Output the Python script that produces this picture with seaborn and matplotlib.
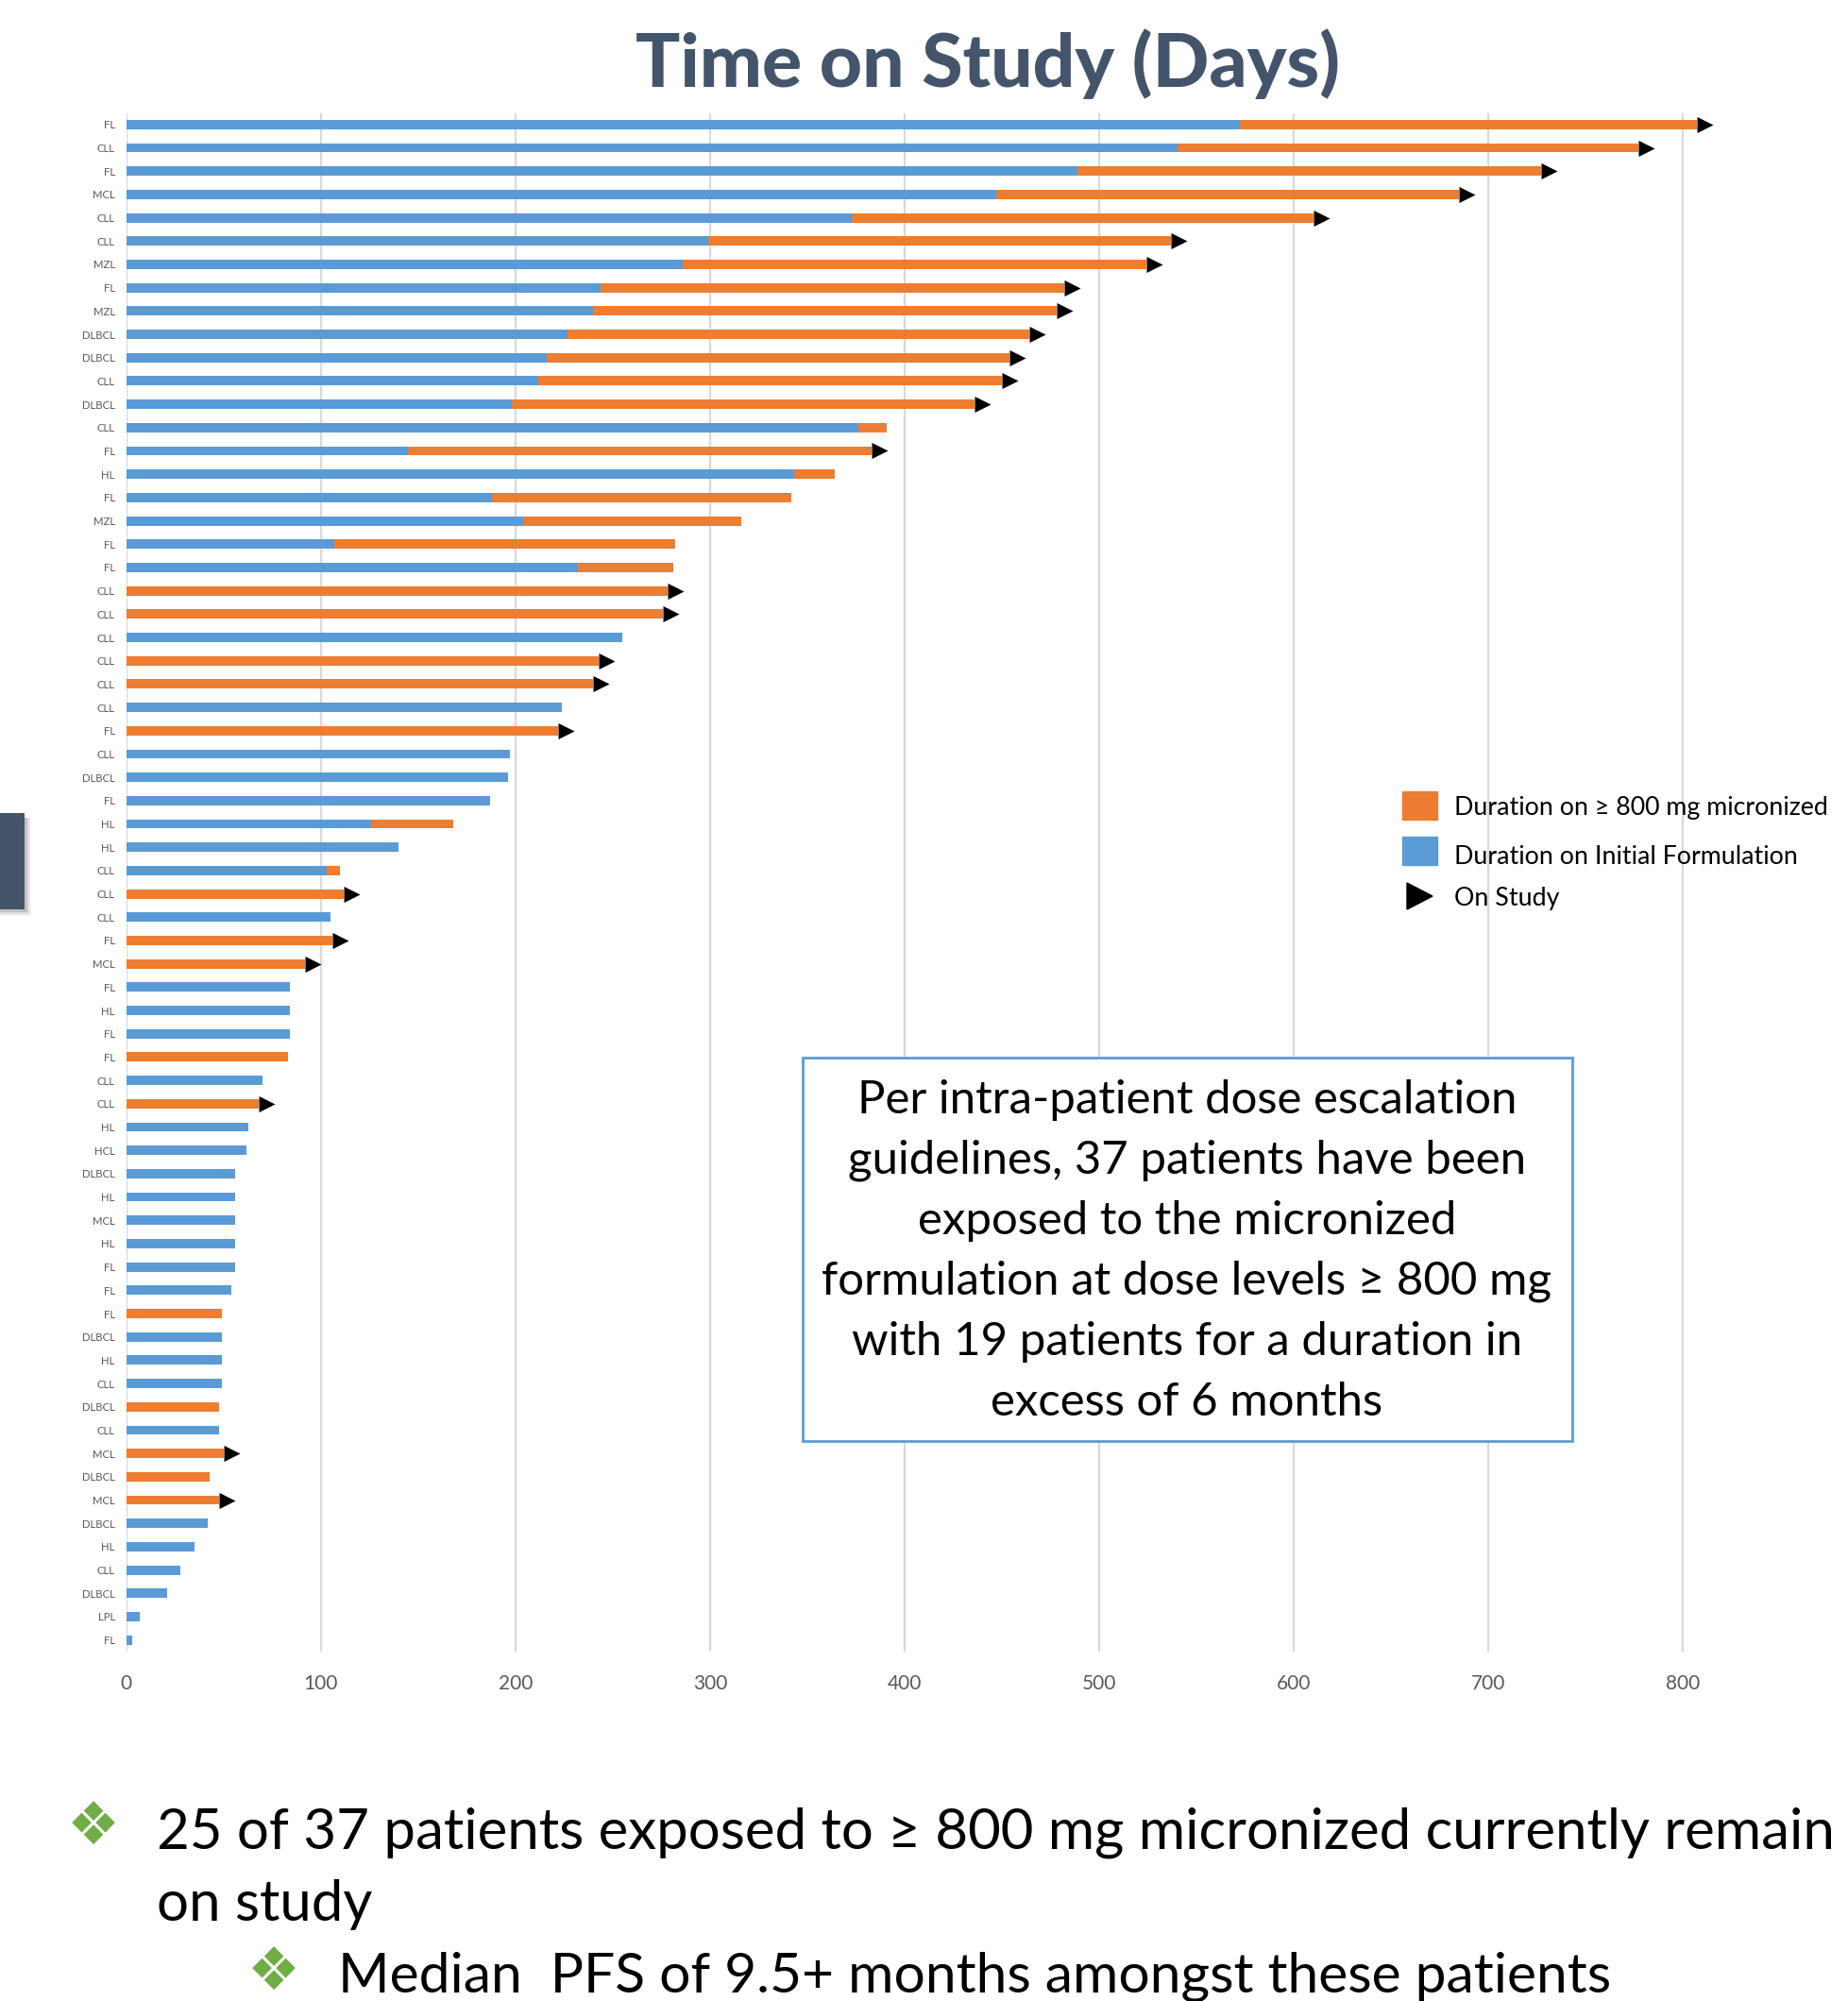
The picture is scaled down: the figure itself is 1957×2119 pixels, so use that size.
"""Time on study per patient, stacked by formulation, with on-study arrows."""
import matplotlib
matplotlib.use('Agg')
import matplotlib.pyplot as plt
from matplotlib.patches import Rectangle
from matplotlib.path import Path
import pandas as pd
import seaborn as sns

W, H = 1957, 2119
DPI = 100

BLUE = '#5B9BD5'
ORANGE = '#ED7D31'
SLATE = '#44546A'
GREEN = '#70AD47'
GREY = '#595959'
GRID = '#D9D9D9'

diagnosis = ['FL', 'CLL', 'FL', 'MCL', 'CLL', 'CLL', 'MZL', 'FL', 'MZL', 'DLBCL',
             'DLBCL', 'CLL', 'DLBCL', 'CLL', 'FL', 'HL', 'FL', 'MZL', 'FL', 'FL',
             'CLL', 'CLL', 'CLL', 'CLL', 'CLL', 'CLL', 'FL', 'CLL', 'DLBCL', 'FL',
             'HL', 'HL', 'CLL', 'CLL', 'CLL', 'FL', 'MCL', 'FL', 'HL', 'FL',
             'FL', 'CLL', 'CLL', 'HL', 'HCL', 'DLBCL', 'HL', 'MCL', 'HL', 'FL',
             'FL', 'FL', 'DLBCL', 'HL', 'CLL', 'DLBCL', 'CLL', 'MCL', 'DLBCL', 'MCL',
             'DLBCL', 'HL', 'CLL', 'DLBCL', 'LPL', 'FL']

# days on the initial formulation (blue segment)
initial_days = [572, 540, 489, 447, 373, 299, 286, 244, 240, 227,
                216, 212, 198, 376, 145, 343, 188, 204, 107, 232,
                0, 0, 255, 0, 0, 224, 0, 197, 196, 187,
                126, 140, 103, 0, 105, 0, 0, 84, 84, 84,
                0, 70, 0, 63, 62, 56, 56, 56, 56, 56,
                54, 0, 49, 49, 49, 0, 48, 0, 0, 0,
                42, 35, 28, 21, 7, 3]

# total days on study (end of the orange segment)
total_days = [807, 777, 727, 685, 610, 537, 524, 482, 478, 464,
              454, 450, 436, 391, 383, 364, 342, 316, 282, 281,
              278, 276, 255, 243, 240, 224, 222, 197, 196, 187,
              168, 140, 110, 112, 105, 106, 92, 84, 84, 84,
              83, 70, 68, 63, 62, 56, 56, 56, 56, 56,
              54, 49, 49, 49, 49, 48, 48, 50, 43, 47.6,
              42, 35, 28, 21, 7, 3]

on_study = [1, 1, 1, 1, 1, 1, 1, 1, 1, 1,
            1, 1, 1, 0, 1, 0, 0, 0, 0, 0,
            1, 1, 0, 1, 1, 0, 1, 0, 0, 0,
            0, 0, 0, 1, 0, 1, 1, 0, 0, 0,
            0, 0, 1, 0, 0, 0, 0, 0, 0, 0,
            0, 0, 0, 0, 0, 0, 0, 1, 0, 1,
            0, 0, 0, 0, 0, 0]

x_ticks = [0, 100, 200, 300, 400, 500, 600, 700, 800]

box_lines = 'Per intra-patient dose escalation\nguidelines, 37 patients have been\nexposed to the micronized\nformulation at dose levels ≥ 800 mg\nwith 19 patients for a duration in\nexcess of 6 months'

df = pd.DataFrame({'row': range(len(diagnosis)), 'initial': initial_days,
                   'total': total_days, 'on_study': on_study})

sns.set_theme(style='white')
plt.rcParams['font.family'] = ['Lato', 'DejaVu Sans']

fig = plt.figure(figsize=(W / DPI, H / DPI), dpi=DPI)

X0, Y_TOP, Y_BOT = 133.5, 119.5, 1749
PX_PER_DAY = (1782.5 - X0) / 800
XMAX = 835
ax = fig.add_axes([X0 / W, 1 - Y_BOT / H, XMAX * PX_PER_DAY / W, (Y_BOT - Y_TOP) / H])

ax.vlines(x_ticks, -0.5, len(df) - 0.5, color=GRID, lw=1.6, zorder=0)

sns.barplot(data=df, x='total', y='row', orient='y', native_scale=True, color=ORANGE,
            width=0.4, saturation=1, errorbar=None, ax=ax, zorder=2, linewidth=0)
sns.barplot(data=df[df['initial'] > 0], x='initial', y='row', orient='y', native_scale=True,
            color=BLUE, width=0.4, saturation=1, errorbar=None, ax=ax, zorder=3, linewidth=0)

# base of the triangle sits on the end of the bar
arrow = Path([(0, -8.5), (17, 0), (0, 8.5), (0, -8.5)], closed=True)
sns.scatterplot(data=df[df['on_study'] == 1], x='total', y='row', marker=arrow, s=600,
                color='black', linewidth=0, ax=ax, zorder=4, clip_on=False)

ax.set_xlim(0, XMAX)
ax.set_ylim(len(df) - 0.5, -0.5)
ax.set_xticks(x_ticks)
ax.set_yticks(df['row'])
ax.set_yticklabels(diagnosis)
ax.tick_params(axis='y', labelsize=8.2, labelcolor=GREY, length=0, pad=8.4)
ax.tick_params(axis='x', labelsize=15, labelcolor=GREY, length=0, pad=17.5)
ax.set_xlabel('')
ax.set_ylabel('')
sns.despine(ax=ax, left=True, bottom=True, top=True, right=True)


def px_text(x, y, s, **kw):
    return fig.text(x / W, 1 - y / H, s, **kw)


px_text(1046, 68, 'Time on Study (Days)', fontsize=56.5, fontweight='black', color=SLATE,
        ha='center', va='center')

# legend drawn by hand to keep the slide's spacing
for y, c in [(853, ORANGE), (901, BLUE)]:
    fig.add_artist(Rectangle((1485 / W, 1 - (y + 15) / H), 37 / W, 30 / H, color=c,
                             transform=fig.transFigure))
px_text(1540, 855, 'Duration on ≥ 800 mg micronized', fontsize=19.3, va='center', color='black')
px_text(1540, 907, 'Duration on Initial Formulation', fontsize=19.3, va='center', color='black')
px_text(1540, 951, 'On Study', fontsize=19.3, va='center', color='black')
fig.add_artist(plt.Polygon([(1490 / W, 1 - 935 / H), (1490 / W, 1 - 963 / H), (1517 / W, 1 - 949 / H)],
                           closed=True, color='black', transform=fig.transFigure))

# annotation box
fig.add_artist(Rectangle((850 / W, 1 - 1526 / H), 815 / W, 406 / H, facecolor='white', zorder=5,
                         edgecolor=BLUE, lw=2, transform=fig.transFigure))
px_text(1257, 1325, box_lines, fontsize=35.4, ha='center', va='center', color='black',
        linespacing=1.553, zorder=6)

# slide element cut off at the left edge, soft shadow first
for grow, alpha in [(7, 0.05), (5, 0.08), (3, 0.12)]:
    fig.add_artist(Rectangle((0, 1 - (963 + grow) / H), (26 + grow) / W, (97 + grow) / H,
                             facecolor='black', alpha=alpha, edgecolor='none',
                             transform=fig.transFigure))
fig.add_artist(Rectangle((0, 1 - 963 / H), 26 / W, 102 / H, facecolor=SLATE, edgecolor='none',
                         transform=fig.transFigure))

# bullets
px_text(99, 1937, '❖', fontsize=45, color=GREEN, family='DejaVu Sans', ha='center', va='center')
px_text(166, 1941, '25 of 37 patients exposed to ≥ 800 mg micronized currently remain', fontsize=43.2,
        va='center', color='black')
px_text(166, 2017, 'on study', fontsize=43.2, va='center', color='black')
px_text(290, 2091, '❖', fontsize=45, color=GREEN, family='DejaVu Sans', ha='center', va='center')
px_text(358, 2093, 'Median  PFS of 9.5+ months amongst these patients', fontsize=42.3, va='center',
        color='black')

fig.savefig('out.png', dpi=DPI)
